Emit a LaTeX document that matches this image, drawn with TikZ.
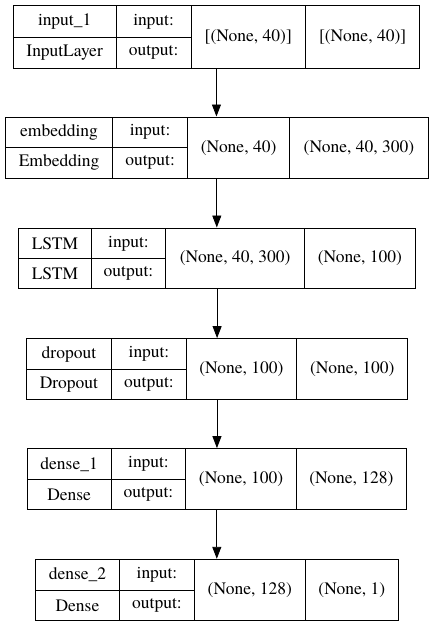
\documentclass[tikz,border=0pt]{standalone}
\usepackage{fontspec}
\setmainfont{texgyretermes}[Extension=.otf,UprightFont=*-regular,BoldFont=*-bold]
\usetikzlibrary{arrows.meta,fit}
\tikzset{
  >={Triangle[length=12pt,width=9pt]},
  cell/.style={draw,line width=0.9pt,inner sep=0pt,anchor=north west,align=center,
               font=\rmfamily\fontsize{17.5}{20}\selectfont},
  layer/.style={inner sep=0pt},
  flow/.style={->,line width=0.9pt},
}

\begin{document}
\begin{tikzpicture}[x=1pt,y=-1pt]
  \useasboundingbox (0,0) rectangle (433,627);

  % one record per layer: column edges, row edges, then the texts
  \foreach \id/\xa/\xb/\xc/\xd/\xe/\yt/\ym/\yb/\nm/\cl/\si/\so in {
    inp/12.7/115.7/190.7/305/419.3/5/36.7/67.7/input\_1/InputLayer/{[(None, 40)]}/{[(None, 40)]},
    emb/5/112.3/187/289.3/427.7/116.7/146.7/177.7/embedding/Embedding/{(None, 40)}/{(None, 40, 300)},
    lstm/18.3/90.7/165.3/304/415/227.7/258.3/288.3/LSTM/LSTM/{(None, 40, 300)}/{(None, 100)},
    drop/25.7/111.3/185.7/296.3/407.3/338.3/369/399/dropout/Dropout/{(None, 100)}/{(None, 100)},
    den1/26.7/110.7/185.3/296/406/448.3/479.3/509.3/dense\_1/Dense/{(None, 100)}/{(None, 128)},
    den2/35/119/194/304.7/398/559/590.3/620/dense\_2/Dense/{(None, 128)}/{(None, 1)}}
  {
    \node[cell,minimum width={(\xb-\xa)*1pt},minimum height={(\ym-\yt)*1pt}] (\id-nm) at (\xa,\yt) {\nm};
    \node[cell,minimum width={(\xb-\xa)*1pt},minimum height={(\yb-\ym)*1pt}] (\id-cl) at (\xa,\ym) {\cl};
    \node[cell,minimum width={(\xc-\xb)*1pt},minimum height={(\ym-\yt)*1pt}] (\id-in) at (\xb,\yt) {input:};
    \node[cell,minimum width={(\xc-\xb)*1pt},minimum height={(\yb-\ym)*1pt}] (\id-out) at (\xb,\ym) {output:};
    \node[cell,minimum width={(\xd-\xc)*1pt},minimum height={(\yb-\yt)*1pt}] (\id-si) at (\xc,\yt) {\si};
    \node[cell,minimum width={(\xe-\xd)*1pt},minimum height={(\yb-\yt)*1pt}] (\id-so) at (\xd,\yt) {\so};
    \node[layer,fit=(\id-nm)(\id-so)] (\id) {};
  }

  % edges between layers
  \foreach \a/\b in {inp/emb,emb/lstm,lstm/drop,drop/den1,den1/den2}
    \draw[flow] (\a.south) -- (\a.south |- \b.north);
\end{tikzpicture}
\end{document}
